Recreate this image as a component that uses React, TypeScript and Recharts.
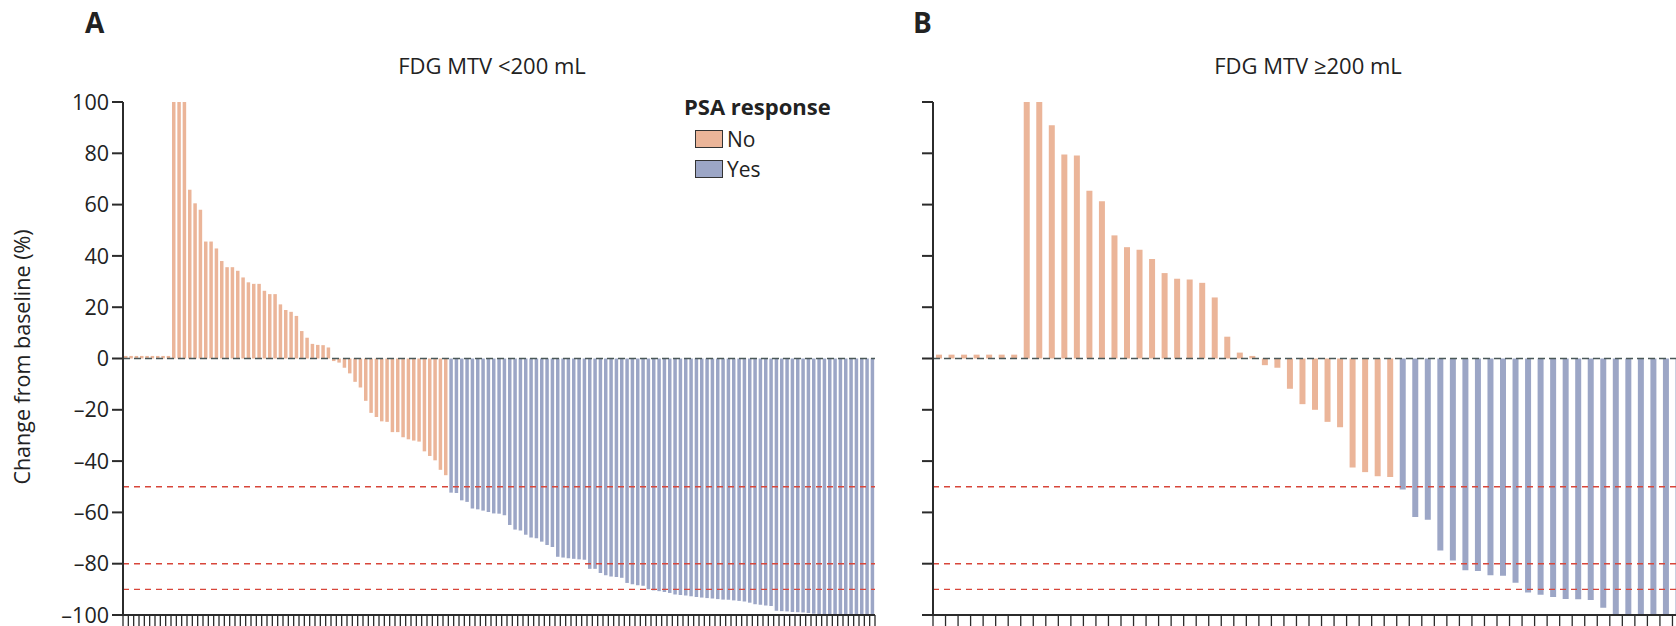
import React from 'react';
import { BarChart, Bar, XAxis, YAxis, ReferenceLine, Cell } from 'recharts';

// ---------- data ----------
const yTicks = [-100, -80, -60, -40, -20, 0, 20, 40, 60, 80, 100];
const thresholdLines = [-50, -80, -90];

const titleA = 'FDG MTV <200 mL';
const titleB = 'FDG MTV \u2265200 mL';
const panelLetters = ['A', 'B'];
const yAxisLabel = 'Change from baseline (%)';
const legendTitle = 'PSA response';
const legendItems = ['No', 'Yes'];

// Panel A: FDG MTV <200 mL
const aNoValues = [
  1, 1, 1, 1, 1, 1, 1, 1, 1,
  100, 100, 100,
  65.8, 60.5, 58, 45.6, 45.6, 42.9, 38, 35.6, 35.6, 34.2, 31.6, 29.7, 29.1, 29.1,
  26.4, 25.1, 25.1, 21.1, 18.9, 18.2, 16.6, 10.7, 8.1, 5.7, 5.3, 5.2, 4.3,
  -1, -1.6, -3.6, -5.8, -9.1, -11.3, -16.5, -21.2, -22.8, -24.5, -24.7, -28.7,
  -28.7, -30.7, -31.5, -32, -32.4, -36.2, -38, -39.7, -43.4, -45.5,
];
const aYesValues = [
  -52.3, -52.4, -55.3, -55.9, -58.5, -58.8, -59.3, -59.8, -60.4, -60.5, -61.1,
  -64.9, -66.7, -67.1, -68.7, -69.8, -70.1, -71.4, -72.7, -73.5,
  -77.3, -77.6, -77.9, -78.1, -78.3, -78.5,
  -82, -82, -83.6, -84.5, -85, -85.2, -85.5,
  -87.5, -88, -88.4, -88.6,
  -90, -90.4, -90.7, -91, -91.4,
  -92, -92.2, -92.4, -92.7,
  -93, -93.2, -93.4, -93.6, -93.8, -94, -94.1, -94.3, -94.5, -94.7,
  -95.2, -95.8, -96, -96.3, -96.5,
  -98.3, -98.5, -98.6, -98.8, -98.9, -99, -99.2, -99.5,
  -100, -100, -100, -100, -100, -100, -100, -100, -100, -100, -100,
];

// Panel B: FDG MTV >=200 mL
const bNoValues = [
  1.5, 1.5, 1.5, 1.5, 1.5, 1.5, 1.5,
  100, 100, 90.9, 79.5, 79.1, 65.4, 61.3, 48, 43.4, 42.4, 38.8, 33.3, 31.1, 30.8,
  29.5, 23.8, 8.5, 2.3, 1,
  -2.6, -3.6, -11.8, -17.8, -20, -24.7, -26.8, -42.5, -44.3, -45.9, -46.2,
];
const bYesValues = [
  -51.1, -61.8, -62.9, -74.9, -78.8, -82.6, -82.8, -84.5, -84.7, -87.4, -91.2,
  -92.1, -93, -93.8, -93.9, -94.2, -97.2, -100, -100, -100, -100, -100, -100,
];

const COLORS: Record<string, string> = { No: '#ebb599', Yes: '#9ca6c6' };
const FONT = '"Open Sans", sans-serif';
const AXIS = '#2b2b2b';

type Row = { pos: number; value: number; response: string };

function buildData(no: number[], yes: number[]): Row[] {
  const rows = [
    ...no.map((v) => ({ v, r: 'No' })),
    ...yes.map((v) => ({ v, r: 'Yes' })),
  ];
  return rows.map((d, i) => ({ pos: i + 0.5, value: d.v, response: d.r }));
}

const dataA = buildData(aNoValues, aYesValues);
const dataB = buildData(bNoValues, bYesValues);

function Panel({
  data,
  barSize,
  showLabels,
}: {
  data: Row[];
  barSize: number;
  showLabels: boolean;
}) {
  const n = data.length;
  const xTicks = Array.from({ length: n + 1 }, (_, i) => i);
  return (
    <BarChart
      width={880}
      height={640}
      data={data}
      margin={{ top: 102, right: 5, left: 0, bottom: 0 }}
    >
      <XAxis
        type="number"
        dataKey="pos"
        domain={[0, n]}
        ticks={xTicks}
        interval={0}
        tickFormatter={() => ''}
        axisLine={{ stroke: AXIS, strokeWidth: 2 }}
        tickLine={{ stroke: AXIS, strokeWidth: 1.3 }}
        tickSize={14}
        height={25}
      />
      <YAxis
        type="number"
        domain={[-100, 100]}
        ticks={yTicks}
        interval={0}
        allowDataOverflow
        width={123}
        tickSize={11}
        tickMargin={3}
        axisLine={{ stroke: AXIS, strokeWidth: 2 }}
        tickLine={{ stroke: AXIS, strokeWidth: 2 }}
        tickFormatter={(v: number) => (showLabels ? (v < 0 ? '\u2013' + Math.abs(v) : String(v)) : '')}
        tick={{ fill: '#222', fontSize: 21.5, fontFamily: FONT }}
      />
      <Bar dataKey="value" barSize={barSize} isAnimationActive={false}>
        {data.map((d, i) => (
          <Cell key={i} fill={COLORS[d.response]} />
        ))}
      </Bar>
      <ReferenceLine y={0} stroke="#4a5858" strokeWidth={1.6} strokeDasharray="7 4" />
      {thresholdLines.map((t) => (
        <ReferenceLine key={t} y={t} stroke="#d8463a" strokeWidth={1.4} strokeDasharray="6 5" />
      ))}
    </BarChart>
  );
}

const abs = (s: React.CSSProperties): React.CSSProperties => ({ position: 'absolute', ...s });

export default function App() {
  return (
    <div
      style={{
        position: 'absolute',
        left: 0,
        top: 0,
        width: 1676,
        height: 626,
        overflow: 'hidden',
        background: '#fff',
        fontFamily: FONT,
        color: '#222',
      }}
    >
      <div style={abs({ left: 0, top: 0 })}>
        <Panel data={dataA} barSize={3.5} showLabels />
      </div>
      <div style={abs({ left: 810, top: 0 })}>
        <Panel data={dataB} barSize={6} showLabels={false} />
      </div>

      <div style={abs({ left: 85, top: 8, fontSize: 28, fontWeight: 700, lineHeight: 1 })}>
        {panelLetters[0]}
      </div>
      <div style={abs({ left: 913, top: 8, fontSize: 28, fontWeight: 700, lineHeight: 1 })}>
        {panelLetters[1]}
      </div>

      <div style={abs({ left: 492, top: 54, fontSize: 22, lineHeight: 1, transform: 'translateX(-50%)', whiteSpace: 'nowrap' })}>
        {titleA}
      </div>
      <div style={abs({ left: 1308, top: 54, fontSize: 22, lineHeight: 1, transform: 'translateX(-50%)', whiteSpace: 'nowrap' })}>
        {titleB}
      </div>

      <div
        style={abs({
          left: 22,
          top: 357,
          fontSize: 21.5,
          lineHeight: 1,
          whiteSpace: 'nowrap',
          transform: 'translate(-50%, -50%) rotate(-90deg)',
        })}
      >
        {yAxisLabel}
      </div>

      <div style={abs({ left: 684, top: 95 })}>
        <div style={{ fontSize: 22, fontWeight: 700, lineHeight: 1, marginBottom: 7 }}>{legendTitle}</div>
        {legendItems.map((item) => (
          <div key={item} style={{ display: 'flex', alignItems: 'center', height: 30, marginLeft: 11 }}>
            <div
              style={{
                width: 28,
                height: 18,
                background: COLORS[item],
                border: '1px solid #333',
                boxSizing: 'border-box',
                marginRight: 4,
              }}
            />
            <span style={{ fontSize: 21, lineHeight: 1 }}>{item}</span>
          </div>
        ))}
      </div>
    </div>
  );
}
